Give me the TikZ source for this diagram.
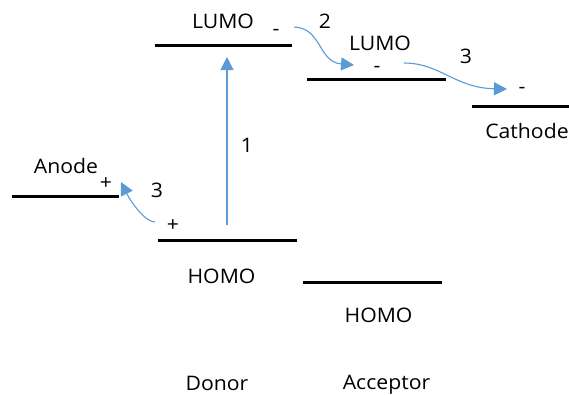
\documentclass[tikz,border=0pt]{standalone}
\usepackage{fontspec}
\setmainfont[FakeStretch=1.06]{Open Sans}
\usetikzlibrary{arrows.meta}
\definecolor{arrowblue}{HTML}{5B9BD5}
\begin{document}
\begin{tikzpicture}[x=1pt,y=-1pt,
  level/.style={line width=3pt, black},
  lbl/.style={font=\fontsize{20}{24}\selectfont, inner sep=0pt, anchor=base},
  eflow/.style={arrowblue, line width=1.1pt, -{Triangle[length=13pt,width=13pt]}}]
\useasboundingbox (0,0) rectangle (569,394);
% energy levels
\draw[level] (155,45) -- (292,45);
\draw[level] (307,79) -- (446,79);
\draw[level] (472,106) -- (569,106);
\draw[level] (12,196) -- (119,196);
\draw[level] (158,240) -- (297,240);
\draw[level] (303,282) -- (442,282);
% labels
\node[lbl] (lumoD) at (223,28) {LUMO};
\node[lbl] (lumoA) at (380,50) {LUMO};
\node[lbl] (homoD) at (221.5,283) {HOMO};
\node[lbl] (homoA) at (378.5,322) {HOMO};
\node[lbl] (donor) at (217,390) {Donor};
\node[lbl] (acceptor) at (386.5,389) {Acceptor};
\node[lbl] (cathode) at (527,138) {Cathode};
\node[lbl] (anode) at (66,173) {Anode};
\node[lbl] (n1) at (247,152) {1};
\node[lbl] (n2) at (325,28) {2};
\node[lbl] (n3r) at (466,63) {3};
\node[lbl] (n3l) at (157,197) {3};
% charges
\node[lbl] (m1) at (276,35) {-};
\node[lbl] (m2) at (377,72) {-};
\node[lbl] (m3) at (522,93) {-};
\node[lbl] (p1) at (106,189) {+};
\node[lbl] (p2) at (173,231) {+};
% arrows
\coordinate (a1s) at (227,225);
\coordinate (a1e) at (227,57);
\coordinate (a2s) at (294,27);
\coordinate (a2e) at (354,65);
\coordinate (a3s) at (404,63);
\coordinate (a3e) at (507,89);
\coordinate (a4s) at (155,222);
\coordinate (a4e) at (121,182);
\draw[eflow] (a1s) -- (a1e);
\draw[eflow] (a2s) .. controls (322,28) and (318,62) .. (a2e);
\draw[eflow] (a3s) .. controls (440,63) and (455,88) .. (a3e);
\draw[eflow] (a4s) .. controls (145,222) and (131,202) .. (a4e);
\end{tikzpicture}
\end{document}
